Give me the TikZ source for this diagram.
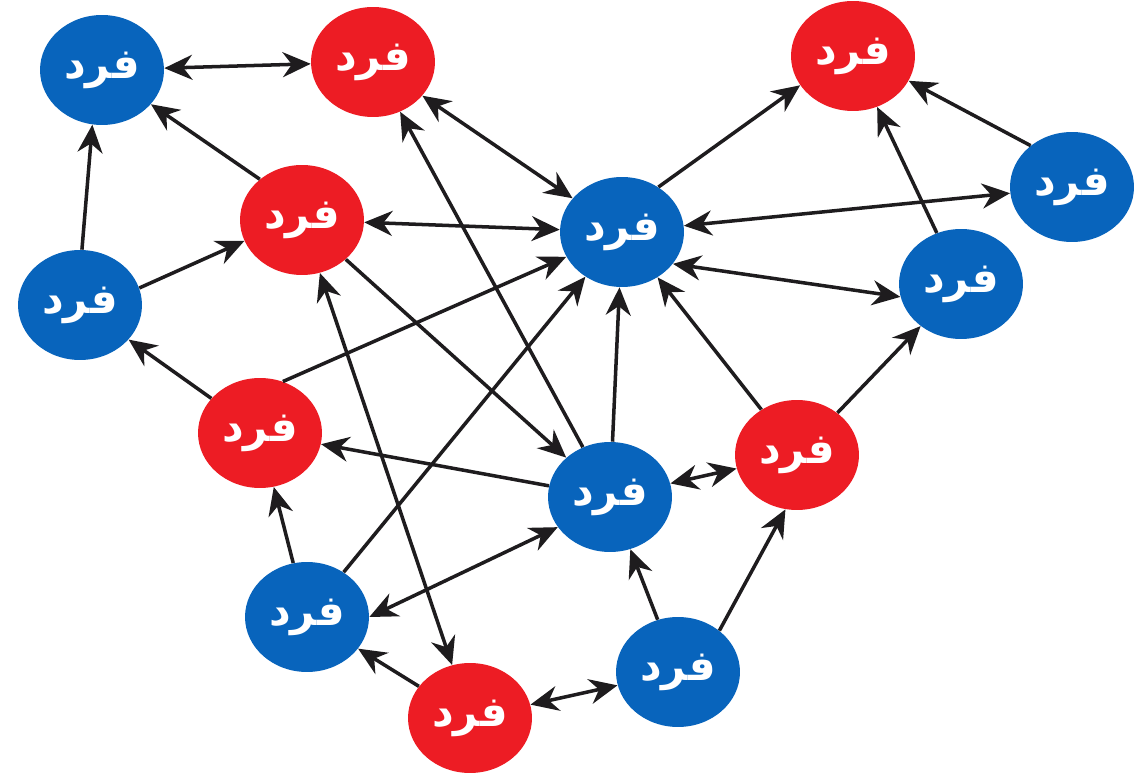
\documentclass[tikz,border=0pt]{standalone}
\usepackage{fontspec}
\usetikzlibrary{shapes.geometric,arrows.meta}
\newfontfamily\arabicfont[Script=Arabic]{DejaVu Sans}
\TeXXeTstate=1
\definecolor{nodeblue}{RGB}{8,100,188}
\definecolor{nodered}{RGB}{237,28,36}
\definecolor{linkgray}{RGB}{30,28,30}
\newcommand{\fard}{{\arabicfont\bfseries\beginR فرد\endR}}

\begin{document}
\begin{tikzpicture}[x=0.02cm,y=-0.02cm,
        person/.style={ellipse,minimum width=2.48cm,minimum height=2.2cm,inner sep=0pt,
            text=white,font=\fontsize{24}{28}\selectfont},
        bluep/.style={person,fill=nodeblue},
        redp/.style={person,fill=nodered},
        link/.style={draw=linkgray,line width=2pt,-{Stealth[length=5.6mm,width=5mm]}},
        twoway/.style={link,{Stealth[length=5.6mm,width=5mm]}-{Stealth[length=5.6mm,width=5mm]}}]
        \useasboundingbox (0,0) rectangle (1140,776);

        \node[bluep] (b1) at (102,70) {\fard};
        \node[redp]  (r1) at (373,62) {\fard};
        \node[redp]  (r2) at (853,56) {\fard};
        \node[bluep] (b2) at (1072,187) {\fard};
        \node[redp]  (r3) at (302,220) {\fard};
        \node[bluep] (b3) at (622,232) {\fard};
        \node[bluep] (b4) at (80,305) {\fard};
        \node[bluep] (b5) at (961,284) {\fard};
        \node[redp]  (r4) at (260,433) {\fard};
        \node[redp]  (r5) at (797,455) {\fard};
        \node[bluep] (b6) at (610,497) {\fard};
        \node[bluep] (b7) at (307,617) {\fard};
        \node[bluep] (b8) at (678,672) {\fard};
        \node[redp]  (r6) at (470,718) {\fard};

        \draw[twoway] (b1) -- (r1);
        \draw[link] (r3.136) -- (b1.-35);
        \draw[link] (b4.88) -- (b1.260);
        \draw[link] (b4.16) -- (r3.200);
        \draw[link] (r4) -- (b4);
        \draw[link] (r4.66) -- (b3.204);
        \draw[twoway] (r3) -- (b3);
        \draw[twoway] (r1) -- (b3);
        \draw[link] (b6) -- (r1);
        \draw[link] (r3) -- (b6);
        \draw[link] (b7) -- (r4);
        \draw[link] (b7) -- (b3);
        \draw[twoway] (b7.0) -- (b6.210);
        \draw[twoway] (r3) -- (r6);
        \draw[link] (r6) -- (b7);
        \draw[twoway] (r6) -- (b8);
        \draw[link] (b8) -- (b6);
        \draw[link] (b8.45) -- (r5.-102);
        \draw[link] (b6) -- (r4);
        \draw[twoway] (b6) -- (r5);
        \draw[link] (b6) -- (b3);
        \draw[link] (r5) -- (b3);
        \draw[link] (r5) -- (b5);
        \draw[twoway] (b3.-32) -- (b5.192);
        \draw[twoway] (b3) -- (b2);
        \draw[link] (b3.51) -- (r2.209);
        \draw[link] (b2.135) -- (r2.-24);
        \draw[link] (b5) -- (r2);
    \end{tikzpicture}
\end{document}
